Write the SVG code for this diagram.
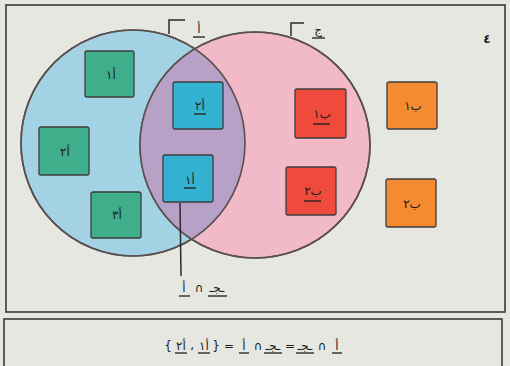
<svg xmlns="http://www.w3.org/2000/svg" width="510" height="366" viewBox="0 0 510 366">
<style>
.frame{fill:none;stroke:#3a3a3a;stroke-width:1.6}
.set{stroke:#5a5050;stroke-width:1.6}
.sq{stroke:#3d3d3d;stroke-width:1.3}
.green{fill:#3fae8a}
.cyan{fill:#35b2d2}
.red{fill:#ee4b3d}
.orange{fill:#f58a30}
.t{font-family:"DejaVu Sans","Noto Sans",sans-serif;font-size:12px;fill:#1c1c1c;text-anchor:middle}
.ul{stroke:#1c1c1c;stroke-width:1.3}
.ln{stroke:#2a2a2a;stroke-width:1.5;fill:none}
</style>
<defs>
<clipPath id="clipA"><ellipse cx="133" cy="143" rx="112" ry="113"/></clipPath>
</defs>
<rect width="510" height="366" fill="#e6e7e1"/>
<rect class="frame" x="6" y="5" width="499" height="307"/>
<rect class="frame" x="4" y="319" width="498" height="52"/>

<g id="set-a">
<ellipse class="set" cx="133" cy="143" rx="112" ry="113" fill="#a3d2e4"/>
</g>
<g id="set-j">
<ellipse class="set" cx="255" cy="145" rx="115" ry="113" fill="#f2b9c9"/>
</g>
<g id="intersection">
<ellipse cx="255" cy="145" rx="115" ry="113" fill="#b8a1c6" clip-path="url(#clipA)"/>
<ellipse class="set" cx="133" cy="143" rx="112" ry="113" fill="none"/>
<ellipse class="set" cx="255" cy="145" rx="115" ry="113" fill="none"/>
</g>

<g id="label-a">
<polyline class="ln" points="169,34 169,20 185,20"/>
<text class="t" x="199" y="33" font-size="13">أ</text>
<line class="ul" x1="193" y1="37" x2="205" y2="37"/>
</g>
<g id="label-j">
<polyline class="ln" points="291,36 291,23 304,23"/>
<text class="t" x="318" y="34" font-size="13">ج</text>
<line class="ul" x1="312" y1="38" x2="325" y2="38"/>
</g>
<g id="number">
<text class="t" x="487" y="43" font-size="16" font-weight="bold">٤</text>
</g>

<g id="a1"><rect class="sq green" x="85" y="51" width="49" height="46" rx="2"/><text class="t" x="111" y="79" direction="rtl">أ١</text></g>
<g id="a2"><rect class="sq green" x="39" y="127" width="50" height="48" rx="2"/><text class="t" x="65" y="156" direction="rtl">أ٢</text></g>
<g id="a3"><rect class="sq green" x="91" y="192" width="50" height="46" rx="2"/><text class="t" x="117" y="219" direction="rtl">أ٣</text></g>

<g id="ab2"><rect class="sq cyan" x="173" y="82" width="50" height="47" rx="2"/><text class="t" x="200" y="110" direction="rtl">أ٢</text><line class="ul" x1="194" y1="114" x2="206" y2="114"/></g>
<g id="ab1"><rect class="sq cyan" x="163" y="155" width="50" height="47" rx="2"/><text class="t" x="190" y="184" direction="rtl">أ١</text><line class="ul" x1="184" y1="188" x2="196" y2="188"/></g>

<g id="jb1"><rect class="sq red" x="295" y="89" width="51" height="49" rx="2"/><text class="t" x="322" y="118" direction="rtl">ب١</text><line class="ul" x1="313" y1="124" x2="330" y2="124"/></g>
<g id="jb2"><rect class="sq red" x="286" y="167" width="50" height="48" rx="2"/><text class="t" x="313" y="195" direction="rtl">ب٢</text><line class="ul" x1="304" y1="201" x2="321" y2="201"/></g>

<g id="b1"><rect class="sq orange" x="387" y="82" width="50" height="47" rx="2"/><text class="t" x="413" y="110" direction="rtl">ب١</text></g>
<g id="b2"><rect class="sq orange" x="386" y="179" width="50" height="48" rx="2"/><text class="t" x="412" y="208" direction="rtl">ب٢</text></g>

<g id="connectors">
<line class="ln" x1="180" y1="203" x2="181" y2="276"/>
</g>

<g id="intersection-label">
<text class="t" x="184" y="292">أ</text>
<line class="ul" x1="179" y1="296" x2="190" y2="296"/>
<text class="t" x="199" y="292">∩</text>
<text class="t" x="217" y="292">ـجـ</text>
<line class="ul" x1="208" y1="296" x2="227" y2="296"/>
</g>

<g id="equation">
<text class="t" x="168" y="350">{</text>
<text class="t" x="181" y="350" direction="rtl">أ٢</text>
<line class="ul" x1="175" y1="353" x2="187" y2="353"/>
<text class="t" x="192" y="350">،</text>
<text class="t" x="204" y="350" direction="rtl">أ١</text>
<line class="ul" x1="198" y1="353" x2="210" y2="353"/>
<text class="t" x="216" y="350">}</text>
<text class="t" x="229" y="350">=</text>
<text class="t" x="244" y="350">أ</text>
<line class="ul" x1="239" y1="353" x2="249" y2="353"/>
<text class="t" x="258" y="350">∩</text>
<text class="t" x="273" y="350">ـجـ</text>
<line class="ul" x1="264" y1="353" x2="282" y2="353"/>
<text class="t" x="290" y="350">=</text>
<text class="t" x="305" y="350">ـجـ</text>
<line class="ul" x1="296" y1="353" x2="314" y2="353"/>
<text class="t" x="322" y="350">∩</text>
<text class="t" x="337" y="350">أ</text>
<line class="ul" x1="332" y1="353" x2="342" y2="353"/>
</g>
</svg>
